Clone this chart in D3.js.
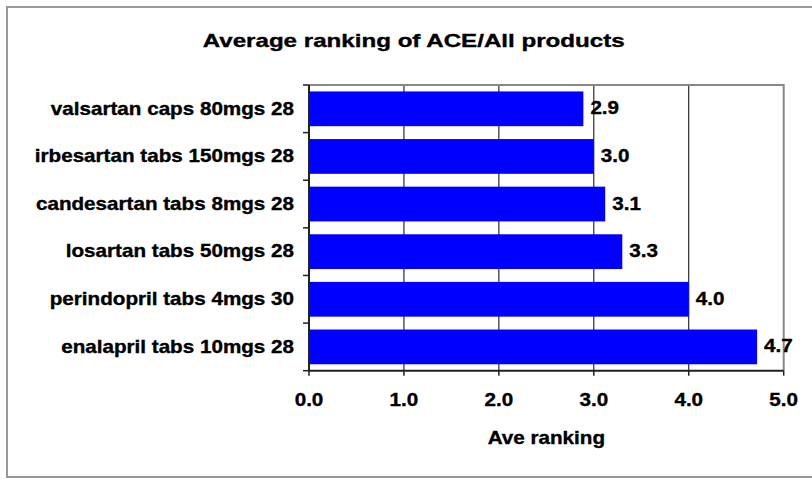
<!DOCTYPE html>
<html>
<head>
<meta charset="utf-8">
<script src="https://cdn.jsdelivr.net/npm/d3@7"></script>
<style>
  html, body { margin: 0; padding: 0; background: #fff; }
  svg { display: block; }
  text { font-family: "Liberation Sans", Arial, sans-serif; font-weight: bold; fill: #000; stroke: #000; stroke-width: 0.35px; }
</style>
</head>
<body>
<svg id="chart" width="812" height="479"></svg>
<script>
const titleText = "Average ranking of ACE/All products";
const axisTitle = "Ave ranking";
const categories = [
  "valsartan caps 80mgs 28",
  "irbesartan tabs 150mgs 28",
  "candesartan tabs 8mgs 28",
  "losartan tabs 50mgs 28",
  "perindopril tabs 4mgs 30",
  "enalapril tabs 10mgs 28"
];
const values = [2.89, 3.0, 3.12, 3.3, 4.0, 4.72];
const valueLabels = ["2.9", "3.0", "3.1", "3.3", "4.0", "4.7"];
const tickValues = [0, 1, 2, 3, 4, 5];
const tickLabels = ["0.0", "1.0", "2.0", "3.0", "4.0", "5.0"];

(function () {
const svg = d3.select("#chart");
const pL = 309, pR = 783.7, pT = 85, pB = 370.7;
const SX = 1.18, FS = 17.5;

// outer frame
svg.append("rect").attr("x", 7).attr("y", 7).attr("width", 820).attr("height", 470)
  .attr("fill", "#fff").attr("stroke", "#999").attr("stroke-width", 2);

const x = d3.scaleLinear().domain([0, 5]).range([pL, pR]);
const y = d3.scaleBand().domain(categories).range([pT, pB]).paddingInner(0.27).paddingOuter(0.135);

// gridlines
svg.append("g").selectAll("line").data(tickValues.slice(1, -1)).join("line")
  .attr("x1", d => x(d)).attr("x2", d => x(d))
  .attr("y1", pT).attr("y2", pB)
  .attr("stroke", "#000").attr("stroke-width", 1);

// plot border (top/right)
svg.append("path")
  .attr("d", `M${pL},${pT}H${pR}V${pB}`)
  .attr("fill", "none").attr("stroke", "#888").attr("stroke-width", 2);

// bars
svg.append("g").selectAll("rect").data(categories).join("rect")
  .attr("x", pL)
  .attr("y", d => y(d))
  .attr("width", (d, i) => x(values[i]) - x(0))
  .attr("height", y.bandwidth())
  .attr("fill", "#0000ff");

// axes lines
svg.append("line").attr("x1", pL).attr("x2", pL).attr("y1", pT).attr("y2", pB + 1)
  .attr("stroke", "#222").attr("stroke-width", 2);
svg.append("line").attr("x1", pL - 1).attr("x2", pR).attr("y1", pB).attr("y2", pB)
  .attr("stroke", "#222").attr("stroke-width", 2);

// left ticks at band boundaries
const bounds = d3.range(categories.length + 1).map(i => pT + i * y.step());
svg.append("g").selectAll("line").data(bounds).join("line")
  .attr("x1", pL - 6).attr("x2", pL).attr("y1", d => d).attr("y2", d => d)
  .attr("stroke", "#222").attr("stroke-width", 1.5);

// bottom ticks
svg.append("g").selectAll("line").data(tickValues).join("line")
  .attr("x1", d => x(d)).attr("x2", d => x(d)).attr("y1", pB).attr("y2", pB + 5)
  .attr("stroke", "#222").attr("stroke-width", 1.5);

function stretchText(g, tx, ty, anchor, txt) {
  return g.append("text")
    .attr("transform", `translate(${tx},${ty}) scale(${SX},1)`)
    .attr("text-anchor", anchor)
    .style("font-size", FS + "px")
    .text(txt);
}

// category labels
categories.forEach((c) => {
  stretchText(svg, 294, y(c) + y.bandwidth() / 2 + 5.8, "end", c);
});

// value labels
categories.forEach((c, i) => {
  stretchText(svg, x(values[i]) + 7, y(c) + y.bandwidth() / 2 + 5.5, "start", valueLabels[i]);
});

// tick labels
tickValues.forEach((v, i) => {
  stretchText(svg, x(v), 405.7, "middle", tickLabels[i]);
});

// axis title
stretchText(svg, (pL + pR) / 2, 444, "middle", axisTitle);

// chart title
svg.append("text")
  .attr("x", 202.7).attr("y", 46.5)
  .attr("text-anchor", "start")
  .attr("textLength", 422).attr("lengthAdjust", "spacingAndGlyphs")
  .style("font-size", "18.5px")
  .text(titleText);
})();
</script>
</body>
</html>
